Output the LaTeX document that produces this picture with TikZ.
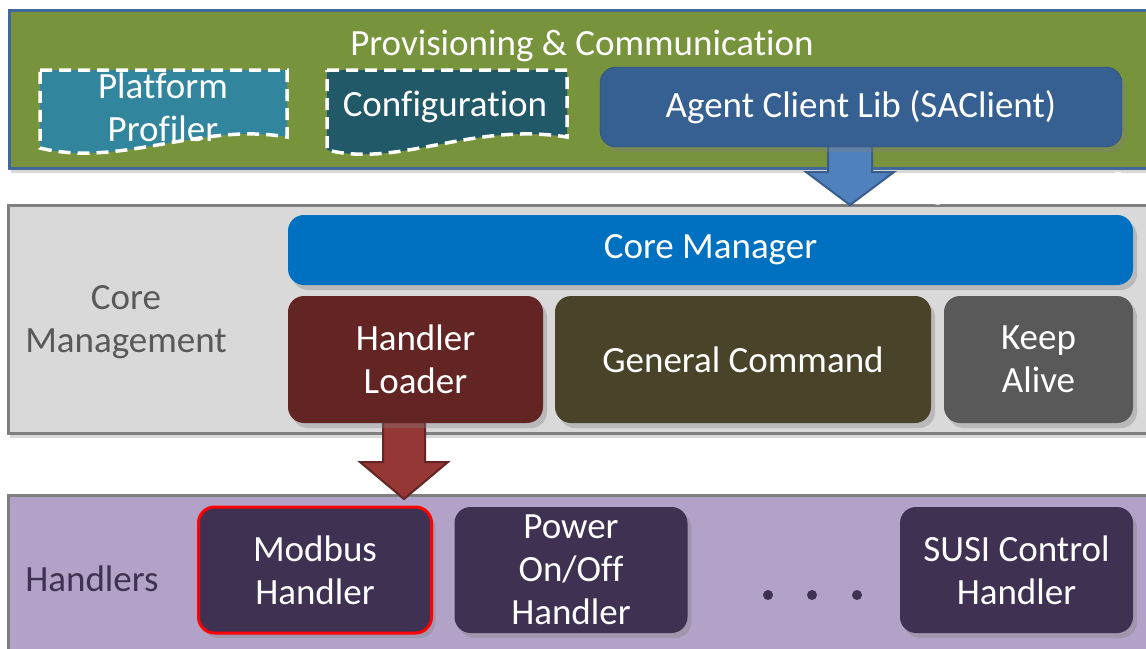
\documentclass[tikz,border=0pt]{standalone}
\usepackage{fontspec}
\setmainfont{Carlito}[Ligatures=NoCommon]
\newfontfamily\dynfont{Liberation Serif}
\usepackage{tikz}
\usetikzlibrary{shadows,calc}

\definecolor{provgreen}{HTML}{77933C}
\definecolor{provedge}{HTML}{41689A}
\definecolor{profteal}{HTML}{31859C}
\definecolor{confteal}{HTML}{215968}
\definecolor{agentblue}{HTML}{366092}
\definecolor{arrblue}{HTML}{4F81BD}
\definecolor{arrblueedge}{HTML}{385D8A}
\definecolor{corefill}{HTML}{D9D9D9}
\definecolor{bandedge}{HTML}{7F7F7F}
\definecolor{cmblue}{HTML}{0070C0}
\definecolor{loaderred}{HTML}{632523}
\definecolor{cmdolive}{HTML}{494429}
\definecolor{alivegray}{HTML}{595959}
\definecolor{arrred}{HTML}{953735}
\definecolor{handlerband}{HTML}{B3A2C7}
\definecolor{handlerbox}{HTML}{3F3151}

\tikzset{
  lbl/.style={text=white, font=\fontsize{37}{43}\selectfont, align=center},
  grouplbl/.style={font=\fontsize{37}{43}\selectfont, align=center},
  band/.style={draw, line width=3pt, drop shadow={shadow xshift=2pt, shadow yshift=-5pt, opacity=0.3}},
  blk/.style={rounded corners=16pt, lbl, drop shadow={shadow xshift=4pt, shadow yshift=-5pt, opacity=0.35}},
  dashbox/.style={draw=white, line width=3.5pt, dash pattern=on 12pt off 7pt},
  hbox/.style={blk, fill=handlerbox, minimum width=233, minimum height=126},
  dynlbl/.style={text=white, font=\dynfont\fontsize{36}{40}\selectfont, anchor=base west}
}

\begin{document}
\begin{tikzpicture}[x=1pt,y=-1pt]
    \useasboundingbox (0,0) rectangle (1146,648);

    % Bands
    \node[band, draw=provedge, fill=provgreen, minimum width=1152, minimum height=158] (prov) at (585,89) {};
    \node[band, draw=bandedge, fill=corefill, minimum width=1152, minimum height=228] (core) at (584,319) {};
    \node[band, draw=bandedge, fill=handlerband, minimum width=1152, minimum height=185] (hand) at (584,587.5) {};

    % Band titles
    \node[lbl] (provtitle) at (582,46) {Provisioning \& Communication};
    \node[grouplbl, text=alivegray] (coretitle) at (126,322) {Core\\Management};
    \node[grouplbl, text=handlerbox] (handtitle) at (92,579) {Handlers};

    % Block arrows
    \coordinate (tipa) at (850,205);
    \coordinate (tipb) at (404,499);
    \draw[fill=arrblue, draw=arrblueedge, line width=2pt]
        ($(tipa)+(-22,-62)$) -- ($(tipa)+(-22,-33)$) -- ($(tipa)+(-44,-33)$) -- (tipa)
        -- ($(tipa)+(44,-33)$) -- ($(tipa)+(22,-33)$) -- ($(tipa)+(22,-62)$) -- cycle;
    \draw[fill=arrred, draw=loaderred, line width=2pt]
        ($(tipb)+(-21,-84)$) -- ($(tipb)+(-21,-37)$) -- ($(tipb)+(-44,-37)$) -- (tipb)
        -- ($(tipb)+(44,-37)$) -- ($(tipb)+(21,-37)$) -- ($(tipb)+(21,-84)$) -- cycle;

    % Dynamic load notes
    \node[dynlbl] (dyna) at (905,197) {Dynamic Load};
    \node[dynlbl] (dynb) at (460,475) {Dynamic Load};

    % Provisioning & Communication
    \fill[profteal] (40,70) -- (287,70) -- (287,137) .. controls (200,122) and (120,168) .. (40,148) -- cycle;
    \draw[dashbox] (40,70) -- (287,70) -- (287,137) .. controls (200,122) and (120,168) .. (40,148) -- cycle;
    \node[lbl] (plat) at (163,107) {Platform\\Profiler};
    \fill[confteal] (327,70) -- (567,70) -- (567,137) .. controls (470,122) and (400,168) .. (327,150) -- cycle;
    \draw[dashbox] (327,70) -- (567,70) -- (567,137) .. controls (470,122) and (400,168) .. (327,150) -- cycle;
    \node[lbl] (conf) at (445,107) {Configuration};
    \node[blk, fill=agentblue, draw=agentblue!80!black, minimum width=522, minimum height=80] (agent) at (861,107) {\raisebox{-3pt}{Agent Client Lib (SAClient)}};

    % Core Management
    \node[blk, fill=cmblue, minimum width=845, minimum height=70] (cm) at (710.5,250) {\raisebox{-3pt}{Core Manager}};
    \node[blk, fill=loaderred, minimum width=255, minimum height=127] (loader) at (415.5,359.5) {Handler\\Loader};
    \node[blk, fill=cmdolive, minimum width=376, minimum height=127] (gencmd) at (743,359.5) {\raisebox{-3pt}{General Command}};
    \node[blk, fill=alivegray, minimum width=189, minimum height=127] (alive) at (1038.5,359.5) {Keep\\Alive};

    % Handlers
    \node[hbox, draw=red, line width=3pt] (modbus) at (315,570) {Modbus\\Handler};
    \node[hbox] (power) at (571,570) {Power\\On/Off\\Handler};
    \node[hbox] (susi) at (1016.5,570) {SUSI Control\\Handler};
    \foreach \x/\n in {768/da,812/db,857/dc} {
        \fill[handlerbox] (\x,595) circle (5) coordinate (\n);
    }
\end{tikzpicture}
\end{document}
